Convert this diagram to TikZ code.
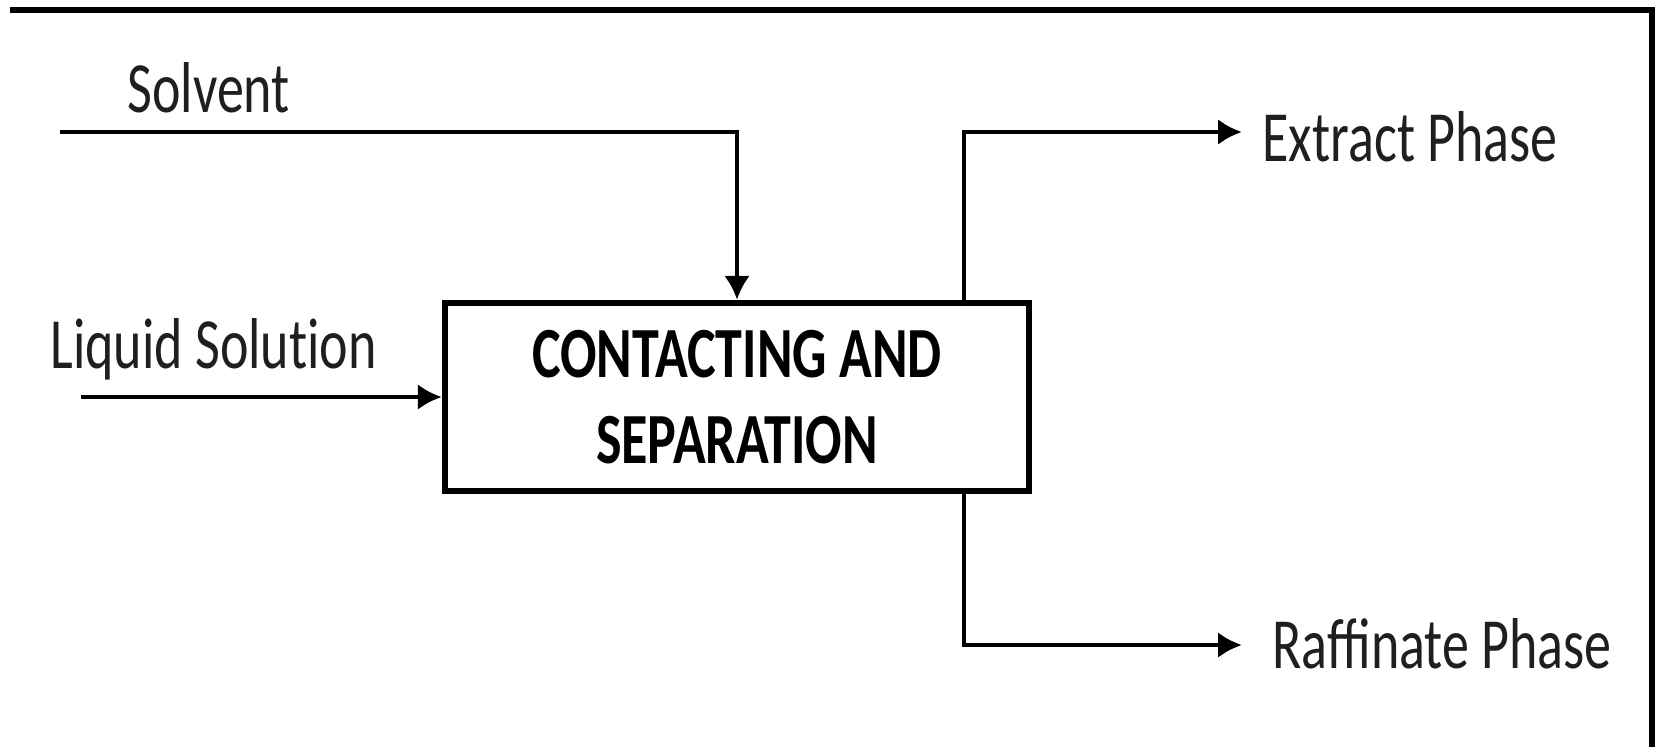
\documentclass[tikz,border=0pt]{standalone}
\usepackage{fontspec}
\setmainfont{Carlito}[FakeStretch=0.75]
\usetikzlibrary{positioning, arrows.meta, calc}

\begin{document}
\begin{tikzpicture}[>={Latex[length=0.24cm,width=0.26cm]}, line width=1.4pt,
    label/.style={anchor=base west, inner sep=0pt, font=\fontsize{20.5}{24.5}\selectfont, text=black!88},
    process/.style={draw, line width=1.8pt, minimum width=5.84cm, minimum height=1.88cm, align=center,
      font=\fontsize{20.5}{24.5}\selectfont\bfseries}]
        \useasboundingbox (0,0) rectangle (16.57,7.47);

        % Frame
        \draw[line width=1.7pt] (0.10,7.37) -- (16.52,7.37) -- (16.52,0);

        % Nodes
        \node [process] (box) at (7.37, 3.50) {CONTACTING AND\\SEPARATION};
        \node [label] (solvent) at (1.25, 6.34)  {Solvent};
        \node [label] (liquid)  at (0.48, 3.79)  {\addfontfeature{Ligatures=NoCommon}Liquid Solution};
        \node [label] (extract) at (12.60, 5.86) {Extract Phase};
        \node [label] (raff)    at (12.70, 0.79) {Raffinate Phase};

        \coordinate (solin)  at (0.60, 6.15);
        \coordinate (liqin)  at (0.81, 3.50);
        \coordinate (extout) at (12.42, 6.15);
        \coordinate (rafout) at (12.42, 1.02);

        % Edges
        \draw[->] (solin) -| (box.north);
        \draw[->] (liqin) -- (box.west);
        \draw[->] ([xshift=2.27cm]box.north) |- (extout);
        \draw[->] ([xshift=2.27cm]box.south) |- (rafout);

      \end{tikzpicture}
\end{document}
